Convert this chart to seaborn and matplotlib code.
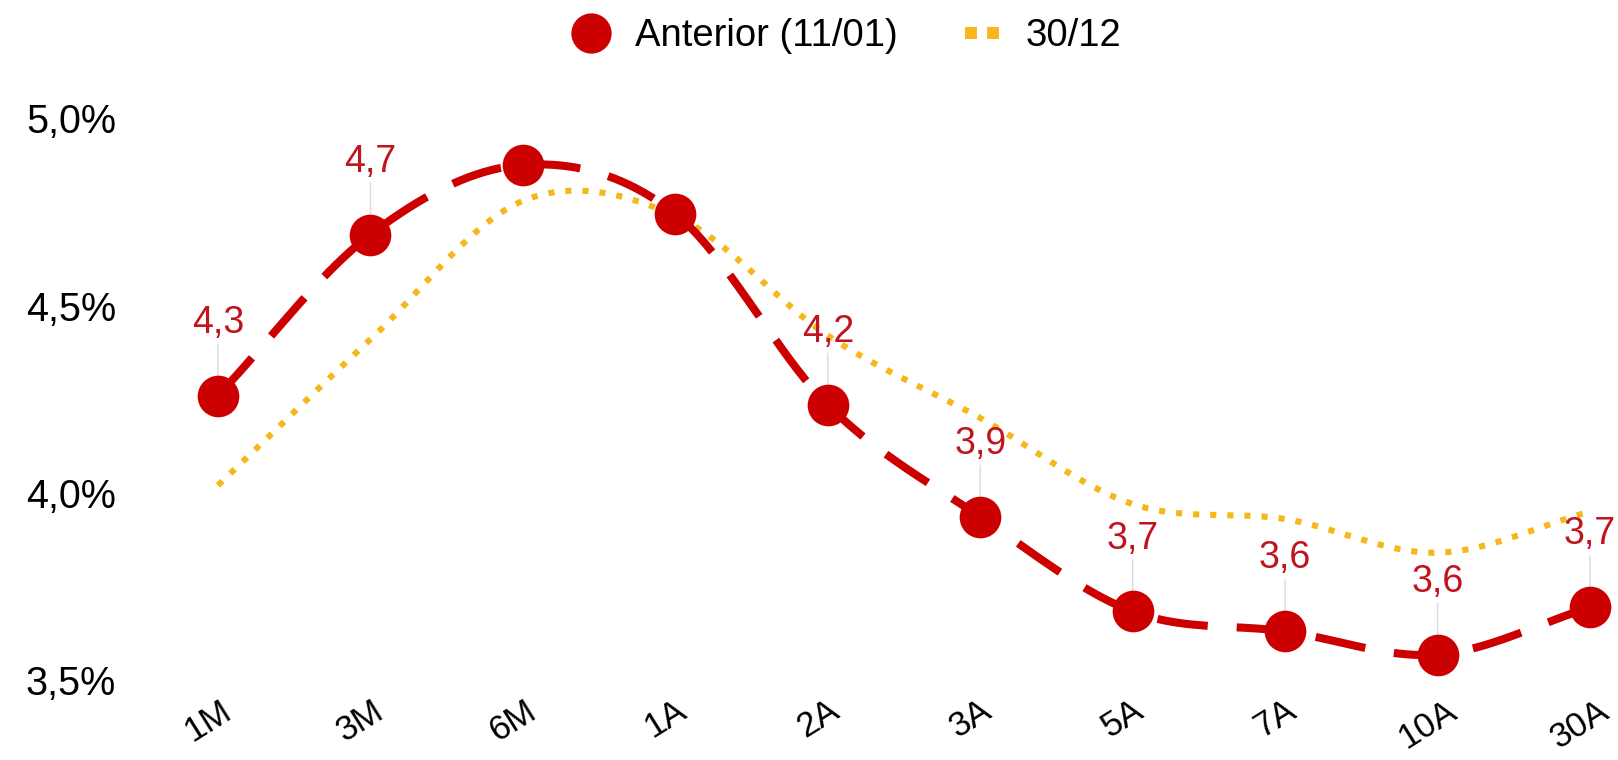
import numpy as np
import pandas as pd
import seaborn as sns
import matplotlib.pyplot as plt
import matplotlib.transforms as mtransforms
from matplotlib.lines import Line2D

sns.set_style("white")
plt.rcParams['font.family'] = ['Liberation Sans', 'DejaVu Sans']
plt.rcParams['text.color'] = 'black'
plt.rcParams['xtick.color'] = 'black'
plt.rcParams['ytick.color'] = 'black'

# data
tenors = ['1M', '3M', '6M', '1A', '2A', '3A', '5A', '7A', '10A', '30A']
anterior = [4.26, 4.69, 4.876, 4.745, 4.235, 3.936, 3.683, 3.63, 3.568, 3.694]
dez30 = [4.02, 4.41, 4.78, 4.74, 4.42, 4.20, 3.97, 3.93, 3.84, 3.95]
value_labels = ['4,3', '4,7', '', '', '4,2', '3,9', '3,7', '3,6', '3,6', '3,7']
yticks = [3.5, 4.0, 4.5, 5.0]
ytick_labels = ['3,5%', '4,0%', '4,5%', '5,0%']

RED = '#CC0000'
LABEL_RED = '#C0141E'
YELLOW = '#F5B71A'


def smooth(vals, n=40):
    # cubic hermite (catmull-rom style) curve through the points
    y = np.asarray(vals, float)
    m = np.gradient(y)
    xs, ys = [], []
    for i in range(len(y) - 1):
        t = np.linspace(0, 1, n, endpoint=False)
        h00 = 2 * t**3 - 3 * t**2 + 1
        h10 = t**3 - 2 * t**2 + t
        h01 = -2 * t**3 + 3 * t**2
        h11 = t**3 - t**2
        xs.append(i + t)
        ys.append(h00 * y[i] + h10 * m[i] + h01 * y[i + 1] + h11 * m[i + 1])
    xs.append([len(y) - 1])
    ys.append([y[-1]])
    return pd.DataFrame({'x': np.concatenate(xs), 'y': np.concatenate(ys)})


fig = plt.figure(figsize=(16.18, 7.6), dpi=100)
ax = fig.add_axes([130 / 1618, 80 / 760, 1 - 130 / 1618, 561.5 / 760])

step = (1590 - 218) / 9
ax.set_xlim(-(218 - 130) / step, 9 + (1618 - 1590) / step)
ax.set_ylim(3.5, 5.0)

pts = pd.DataFrame({'x': np.arange(len(tenors)), 'anterior': anterior, 'dez30': dez30})

yc = smooth(dez30)
sns.lineplot(data=yc, x='x', y='y', ax=ax, color=YELLOW, linewidth=4.4,
             sort=False, zorder=2)
ax.lines[-1].set_dashes((1.0, 1.8))
ax.lines[-1].set_dash_capstyle('butt')
ax.lines[-1].set_clip_on(False)

rc = smooth(anterior)
sns.lineplot(data=rc, x='x', y='y', ax=ax, color=RED, linewidth=5.8,
             sort=False, zorder=3)
ax.lines[-1].set_dashes((6.3, 3.6))
ax.lines[-1].set_clip_on(False)

ax.plot(pts['x'], pts['anterior'], 'o', color=RED, markersize=30,
        markeredgewidth=0, zorder=4, clip_on=False)

for i, lab in enumerate(value_labels):
    if not lab:
        continue
    ax.annotate(lab, xy=(i, anterior[i]), xytext=(0, 52.5), textcoords='offset points',
                ha='center', va='center', fontsize=27, color=LABEL_RED, zorder=3,
                arrowprops=dict(arrowstyle='-', color='#DADADA', lw=1.0,
                                shrinkA=0, shrinkB=15))

ax.set_xticks(range(len(tenors)))
ax.set_xticklabels(tenors, rotation=32, ha='center', fontsize=25)
ax.set_yticks(yticks)
ax.set_yticklabels(ytick_labels, fontsize=28.5)
ax.tick_params(axis='x', length=0, pad=10)
ax.tick_params(axis='y', length=0, pad=10)
# tick labels sit a little left of their ticks
shift = mtransforms.ScaledTranslation(-10 / 100, 0, fig.dpi_scale_trans)
for lbl in ax.get_xticklabels():
    lbl.set_transform(lbl.get_transform() + shift)
ax.set_xlabel('')
ax.set_ylabel('')
sns.despine(ax=ax, left=True, bottom=True)
ax.grid(False)

handles = [
    Line2D([], [], marker='o', linestyle='none', color=RED, markersize=29, markeredgewidth=0),
    Line2D([], [], color=YELLOW, linewidth=8.6, dashes=(1.0, 0.85), dash_capstyle='butt'),
]
fig.legend(handles, ['Anterior (11/01)', '30/12'], loc='center', bbox_to_anchor=(0.524, 1 - 36 / 760),
           ncol=2, frameon=False, fontsize=27.5, handlelength=0.9, handletextpad=0.7,
           columnspacing=1.75)

fig.savefig('out.png', dpi=100)
